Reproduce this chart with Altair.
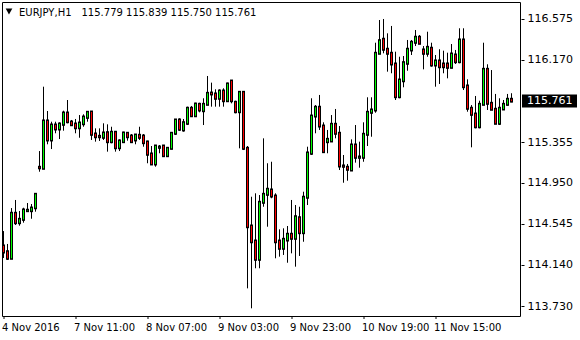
import altair as alt
import pandas as pd

opens = [114.325, 114.268, 114.203, 114.649, 114.556, 114.589, 114.675, 114.675, 114.704, 115.105,
         115.095, 115.564, 115.376, 115.524, 115.485, 115.531, 115.643, 115.554, 115.534, 115.497,
         115.537, 115.600, 115.653, 115.435, 115.412, 115.402, 115.448, 115.359, 115.452, 115.299,
         115.359, 115.442, 115.415, 115.376, 115.422, 115.415, 115.356, 115.237, 115.138, 115.303,
         115.316, 115.220, 115.293, 115.442, 115.574, 115.475, 115.541, 115.690, 115.616, 115.729,
         115.666, 115.729, 115.841, 115.832, 115.789, 115.861, 115.765, 115.960, 115.749, 115.656,
         115.848, 115.293, 114.523, 114.374, 114.193, 114.758, 114.837, 114.880, 114.820, 114.374,
         114.302, 114.384, 114.441, 114.401, 114.605, 114.457, 114.808, 115.244, 115.613, 115.700,
         115.514, 115.359, 115.366, 115.531, 115.442, 115.118, 115.105, 115.078, 115.326, 115.204,
         115.204, 115.432, 115.650, 115.673, 116.235, 116.374, 116.275, 116.235, 116.129, 115.805,
         115.963, 116.136, 116.268, 116.344, 116.394, 116.268, 116.235, 116.285, 116.119, 116.159,
         116.129, 116.129, 116.096, 116.218, 116.152, 116.367, 115.911, 115.690, 115.633, 115.507,
         115.729, 116.076, 115.739, 115.680, 115.541, 115.683, 115.729, 115.779]
highs = [114.473, 114.345, 114.701, 114.781, 114.672, 114.704, 114.751, 114.741, 114.837, 115.266,
         115.904, 115.663, 115.557, 115.557, 115.551, 115.666, 115.772, 115.574, 115.584, 115.623,
         115.630, 115.663, 115.663, 115.491, 115.491, 115.541, 115.531, 115.507, 115.465, 115.382,
         115.458, 115.448, 115.435, 115.435, 115.507, 115.435, 115.369, 115.316, 115.326, 115.326,
         115.326, 115.303, 115.452, 115.581, 115.591, 115.584, 115.706, 115.713, 115.745, 115.745,
         115.789, 116.010, 115.944, 115.878, 115.878, 115.888, 115.944, 115.970, 115.765, 115.854,
         115.854, 115.316, 114.813, 114.847, 114.830, 115.392, 115.145, 115.160, 114.847, 114.490,
         114.500, 114.523, 114.781, 114.731, 114.714, 114.863, 115.309, 115.789, 115.722, 115.822,
         115.551, 115.475, 115.623, 115.683, 115.514, 115.227, 115.138, 115.382, 115.524, 115.359,
         115.551, 115.799, 115.799, 116.340, 116.565, 116.575, 116.433, 116.506, 116.251, 116.201,
         116.208, 116.367, 116.367, 116.466, 116.416, 116.307, 116.449, 116.340, 116.218, 116.275,
         116.261, 116.241, 116.327, 116.268, 116.483, 116.483, 115.977, 115.722, 115.812, 115.765,
         116.340, 116.126, 116.069, 115.832, 115.789, 115.772, 115.832, 115.839]
lows = [114.206, 114.186, 114.200, 114.533, 114.526, 114.556, 114.665, 114.595, 114.665, 115.061,
        115.095, 115.333, 115.286, 115.442, 115.385, 115.468, 115.541, 115.517, 115.442, 115.398,
        115.507, 115.557, 115.376, 115.359, 115.366, 115.376, 115.260, 115.343, 115.260, 115.266,
        115.353, 115.369, 115.359, 115.333, 115.376, 115.309, 115.145, 115.128, 115.111, 115.244,
        115.210, 115.210, 115.283, 115.425, 115.465, 115.458, 115.524, 115.606, 115.606, 115.650,
        115.524, 115.722, 115.706, 115.706, 115.706, 115.706, 115.755, 115.739, 115.640, 115.293,
        115.276, 113.905, 113.707, 114.104, 114.104, 114.714, 114.516, 114.798, 114.203, 114.219,
        114.236, 114.159, 114.252, 114.120, 114.226, 114.367, 114.731, 115.227, 115.442, 115.475,
        115.260, 115.244, 115.359, 115.392, 115.078, 114.952, 114.972, 115.071, 115.151, 115.101,
        115.160, 115.316, 115.408, 115.646, 116.228, 116.235, 116.053, 116.037, 115.772, 115.789,
        115.898, 116.062, 116.218, 116.307, 116.327, 116.076, 116.201, 116.102, 115.904, 115.931,
        116.037, 115.987, 116.086, 116.129, 116.136, 115.871, 115.656, 115.303, 115.491, 115.491,
        115.722, 115.673, 115.673, 115.534, 115.524, 115.673, 115.716, 115.750]
closes = [114.265, 114.203, 114.649, 114.556, 114.589, 114.682, 114.679, 114.701, 114.837, 115.100,
          115.564, 115.376, 115.524, 115.485, 115.534, 115.643, 115.557, 115.527, 115.497, 115.544,
          115.603, 115.650, 115.432, 115.408, 115.408, 115.445, 115.359, 115.452, 115.299, 115.366,
          115.445, 115.408, 115.359, 115.425, 115.402, 115.349, 115.234, 115.138, 115.316, 115.306,
          115.220, 115.293, 115.442, 115.574, 115.482, 115.547, 115.690, 115.616, 115.732, 115.673,
          115.729, 115.838, 115.832, 115.789, 115.861, 115.765, 115.931, 115.765, 115.656, 115.848,
          115.293, 114.516, 114.367, 114.193, 114.758, 114.837, 114.887, 114.820, 114.367, 114.302,
          114.391, 114.441, 114.401, 114.615, 114.457, 114.808, 115.247, 115.613, 115.700, 115.514,
          115.260, 115.382, 115.531, 115.442, 115.118, 115.115, 115.085, 115.326, 115.204, 115.207,
          115.432, 115.650, 115.673, 116.235, 116.360, 116.275, 116.235, 116.129, 115.805, 115.970,
          116.142, 116.275, 116.344, 116.394, 116.334, 116.235, 116.294, 116.119, 116.159, 116.102,
          116.102, 116.096, 116.228, 116.152, 116.367, 115.904, 115.690, 115.630, 115.507, 115.729,
          116.076, 115.739, 115.680, 115.541, 115.690, 115.729, 115.779, 115.761]

tick_index = [0, 18, 36, 54, 72, 90, 108]
tick_labels = ["4 Nov 2016", "7 Nov 11:00", "8 Nov 07:00", "9 Nov 03:00",
               "9 Nov 23:00", "10 Nov 19:00", "11 Nov 15:00"]
price_ticks = [116.575, 116.170, 115.355, 114.950, 114.545, 114.140, 113.730]
symbol = "EURJPY,H1"

FONT = "DejaVu Sans"
W, H = 518, 314
n = len(opens)
df = pd.DataFrame({"i": list(range(n)), "o": opens, "h": highs, "l": lows, "c": closes})
df["dir"] = ["up" if c >= o else "down" for o, c in zip(opens, closes)]

label_expr = ""
for idx, lab in zip(tick_index, tick_labels):
    label_expr += f"datum.value == {idx} ? '{lab}' : "
label_expr += "''"

xscale = alt.Scale(domain=[-0.375, 129.125], nice=False, zero=False, padding=0)
yscale = alt.Scale(domain=[113.6309, 116.7435], nice=False, zero=False, padding=0)
dir_scale = alt.Scale(domain=["up", "down"], range=["#00ff00", "#ff0000"])

xaxis = alt.Axis(values=tick_index, labelExpr=label_expr, title=None, grid=False,
                 domain=False, tickSize=3, tickColor="black", labelColor="black",
                 labelFont=FONT, labelFontSize=10, labelAlign="left",
                 labelBaseline="top", labelPadding=4, translate=0, labelOffset=-1.5,
                 labelOverlap=False, labelFlush=False)
yaxis = alt.Axis(orient="right", values=price_ticks, format=".3f", title=None,
                 grid=False, domain=False, tickSize=3, tickColor="black",
                 labelColor="black", labelFont=FONT, labelFontSize=11, offset=1,
                 labelPadding=3, labelOverlap=False, labelFlush=False)

wicks = alt.Chart(df).mark_rule(color="black", strokeWidth=1).encode(
    x=alt.X("i:Q", scale=xscale, axis=xaxis),
    y=alt.Y("l:Q", scale=yscale, axis=yaxis),
    y2="h:Q",
)

# body: 3px black outline rule with a 1px coloured core on top
outline = alt.Chart(df).mark_rule(color="black", strokeWidth=3, strokeCap="square").encode(
    x=alt.X("i:Q", scale=xscale, axis=xaxis),
    y=alt.Y("o:Q", scale=yscale, axis=yaxis),
    y2="c:Q",
)
cores = alt.Chart(df).mark_rule(strokeWidth=1, strokeCap="butt").encode(
    x=alt.X("i:Q", scale=xscale, axis=xaxis),
    y=alt.Y("o:Q", scale=yscale, axis=yaxis),
    y2="c:Q",
    color=alt.Color("dir:N", scale=dir_scale, legend=None),
)

frame = alt.Chart(pd.DataFrame({"a": [1]})).mark_rect(
    fill=None, fillOpacity=0, stroke="black", strokeWidth=1
).encode(x=alt.value(0.5), x2=alt.value(W + 0.5), y=alt.value(0.5), y2=alt.value(H + 0.5))

last = pd.DataFrame({"p": [closes[-1]], "t": [f"{closes[-1]:.3f}"]})
box = alt.Chart(last).mark_rule(color="black", strokeWidth=13).encode(
    x=alt.value(W + 2), x2=alt.value(W + 57), y=alt.Y("p:Q", scale=yscale, axis=yaxis)
)
box_text = alt.Chart(last).mark_text(align="left", baseline="middle", color="white",
                                     font=FONT, fontSize=11).encode(
    x=alt.value(W + 7), y=alt.Y("p:Q", scale=yscale, axis=yaxis), text="t:N"
)

head = pd.DataFrame({
    "x": [17.0, 79.5],
    "t": [symbol, f"{opens[-1]:.3f} {highs[-1]:.3f} {lows[-1]:.3f} {closes[-1]:.3f}"],
})
head_text = alt.Chart(head).mark_text(align="left", baseline="middle", color="black",
                                      font=FONT, fontSize=10).encode(
    x=alt.X("x:Q", scale=None), y=alt.value(10.5), text="t:N"
)
tri = alt.Chart(pd.DataFrame({"a": [1]})).mark_point(
    shape="triangle-down", filled=True, color="black", size=45, opacity=1
).encode(x=alt.value(7), y=alt.value(9.5))

chart = alt.layer(wicks, outline, cores, frame, box, box_text, head_text, tri).properties(
    width=W, height=H,
    padding={"left": 2, "top": 2, "right": 60, "bottom": 24},
    autosize="none",
    background="white",
).configure_view(stroke=None)

chart.save("out.html", embed_options={"renderer": "svg", "actions": False})
